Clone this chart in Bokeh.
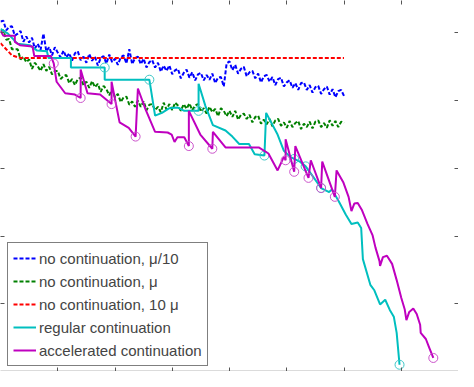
from bokeh.plotting import figure
from bokeh.models import LinearAxis, FixedTicker, Range1d, Legend, LegendItem
from bokeh.embed import file_html
from bokeh.resources import INLINE

# iterations for the "no continuation" runs
iters = list(range(0, 605, 5))

blue_mu10 = [0.17, 0.18, 0.04, 0.09, 0.10, -0.04, -0.01, 0.03, -0.13, -0.05,
             -0.14, -0.07, -0.23, -0.16, -0.25, -0.01, -0.27, -0.21, -0.33, -0.21,
             -0.29, -0.36, -0.26, -0.36, -0.30, -0.41, -0.30, -0.27, -0.40, -0.35,
             -0.44, -0.31, -0.41, -0.35, -0.48, -0.37, -0.34, -0.45, -0.32, -0.43,
             -0.38, -0.47, -0.36, -0.33, -0.45, -0.24, -0.46, -0.37, -0.35, -0.46,
             -0.38, -0.51, -0.43, -0.40, -0.51, -0.44, -0.57, -0.48, -0.56, -0.48,
             -0.61, -0.55, -0.53, -0.67, -0.59, -0.54, -0.66, -0.58, -0.70, -0.61,
             -0.59, -0.70, -0.62, -0.69, -0.60, -0.74, -0.66, -0.65, -0.79, -0.45,
             -0.42, -0.55, -0.47, -0.60, -0.53, -0.50, -0.64, -0.58, -0.56, -0.67,
             -0.60, -0.73, -0.64, -0.62, -0.72, -0.65, -0.77, -0.68, -0.66, -0.79,
             -0.73, -0.70, -0.81, -0.74, -0.84, -0.74, -0.73, -0.84, -0.77, -0.88,
             -0.80, -0.78, -0.90, -0.83, -0.79, -0.91, -0.83, -0.95, -0.86, -0.84,
             -0.93]

green_mu = [0.03, 0.04, -0.10, -0.09, -0.24, -0.24, -0.24, -0.39, -0.35, -0.43,
            -0.39, -0.53, -0.44, -0.49, -0.56, -0.46, -0.56, -0.50, -0.61, -0.56,
            -0.56, -0.68, -0.64, -0.62, -0.74, -0.68, -0.77, -0.68, -0.66, -0.77,
            -0.72, -0.81, -0.71, -0.80, -0.75, -0.87, -0.78, -0.83, -0.92, -0.83,
            -0.95, -0.90, -1.02, -0.95, -0.94, -1.06, -1.01, -1.09, -1.00, -1.09,
            -1.01, -1.14, -1.06, -1.05, -1.14, -1.09, -1.17, -1.03, -1.13, -1.05,
            -1.14, -1.03, -1.07, -1.15, -1.05, -1.12, -1.04, -1.14, -1.07, -1.05,
            -1.16, -1.11, -1.19, -1.09, -1.17, -1.12, -1.23, -1.11, -1.15, -1.23,
            -1.15, -1.24, -1.15, -1.28, -1.21, -1.19, -1.27, -1.21, -1.32, -1.24,
            -1.22, -1.34, -1.28, -1.35, -1.27, -1.38, -1.29, -1.27, -1.37, -1.32,
            -1.40, -1.30, -1.39, -1.33, -1.30, -1.42, -1.34, -1.39, -1.31, -1.41,
            -1.31, -1.29, -1.39, -1.33, -1.40, -1.29, -1.37, -1.30, -1.39, -1.31,
            -1.33]

red_x = [0, 10, 20, 35, 600]
red_y = [-0.15, -0.24, -0.33, -0.37, -0.37]

reg_x = [0, 13, 30, 51, 64, 81, 84, 123, 123, 182, 182, 260, 270, 282, 295, 309,
         321, 338, 346, 346, 358, 371, 393, 405, 417, 434, 444, 461, 464, 484, 495,
         506, 513, 523, 533, 545, 560, 574, 579, 591, 603, 613, 624, 630, 633, 646,
         653, 663, 672, 680, 687, 692, 697]
reg_y = [0.06, -0.01, -0.16, -0.18, -0.26, -0.27, -0.37, -0.37, -0.51, -0.51,
         -0.69, -0.69, -1.22, -1.18, -1.11, -1.10, -1.15, -1.15, -1.15, -0.75,
         -1.08, -1.36, -1.44, -1.53, -1.64, -1.64, -1.79, -1.81, -1.18, -1.50,
         -1.74, -1.83, -1.86, -1.90, -1.97, -2.11, -2.29, -2.35, -2.31, -2.49,
         -2.68, -2.82, -2.80, -2.88, -3.34, -3.72, -3.80, -4.01, -3.94, -4.09,
         -4.19, -4.43, -4.90]
reg_cx = [182, 260, 346, 461, 513, 533, 560, 697]
reg_cy = [-0.51, -0.69, -1.15, -1.81, -1.86, -1.97, -2.29, -4.90]

acc_x = [0, 5, 25, 25, 34, 56, 59, 88, 93, 98, 113, 130, 140, 140, 152, 174, 194,
         194, 208, 224, 236, 240, 253, 270, 292, 299, 304, 309, 321, 329, 329, 349,
         370, 371, 393, 422, 451, 468, 484, 495, 498, 498, 513, 515, 538, 542, 560,
         562, 584, 587, 599, 608, 613, 618, 624, 631, 641, 650, 655, 662, 663, 668,
         675, 684, 692, 700, 706, 709, 714, 721, 727, 733, 734, 743, 749, 756]
acc_y = [0.03, -0.04, -0.04, -0.13, -0.18, -0.20, -0.34, -0.34, -0.45, -0.72,
         -0.89, -0.91, -0.96, -0.54, -0.89, -0.91, -1.05, -0.72, -1.32, -1.40,
         -1.53, -0.82, -1.12, -1.46, -1.47, -1.50, -1.61, -1.54, -1.54, -1.67,
         -1.15, -1.50, -1.71, -1.46, -1.69, -1.69, -1.69, -1.78, -2.03, -1.83,
         -1.88, -1.57, -2.05, -1.67, -2.14, -1.88, -2.29, -1.90, -2.42, -2.03,
         -2.21, -2.42, -2.63, -2.52, -2.51, -2.61, -2.82, -2.99, -3.17, -3.37,
         -3.44, -3.31, -3.29, -3.41, -3.65, -3.91, -4.08, -4.24, -4.12, -4.07,
         -4.15, -4.31, -4.43, -4.52, -4.65, -4.80]
acc_cx = [93, 140, 194, 236, 329, 370, 498, 513, 538, 560, 584, 756]
acc_cy = [-0.45, -0.96, -1.05, -1.53, -1.67, -1.71, -1.88, -2.05, -2.14, -2.29, -2.42, -4.80]

x_ticks = [100, 200, 300, 400, 500, 600, 700]
y_ticks = [-4, -3, -2, -1, 0]

labels = ["no continuation, \u03bc/10", "no continuation, \u03bc",
          "no continuation, 10 \u03bc", "regular continuation",
          "accelerated continuation"]

p = figure(width=458, height=371, output_backend="svg", toolbar_location=None,
           x_range=Range1d(0, 800), y_range=Range1d(-5, 0.48),
           x_axis_location=None, y_axis_location=None, min_border=0)
p.outline_line_color = None
p.background_fill_color = "white"
p.xgrid.visible = False
p.ygrid.visible = False

for loc in ["left", "right", "above", "below"]:
    ticks = y_ticks if loc in ("left", "right") else x_ticks
    ax = LinearAxis(ticker=FixedTicker(ticks=ticks), major_tick_in=4, major_tick_out=0,
                    minor_tick_in=0, minor_tick_out=0,
                    major_label_overrides={t: "" for t in ticks},
                    major_label_text_font_size="0px", major_label_standoff=0,
                    axis_line_color=None, major_tick_line_color="#555555")
    if loc == "below":
        ax.axis_line_color = "#b8b8b8"
        ax.axis_line_width = 2
    p.add_layout(ax, loc)

r1 = p.line(iters, blue_mu10, line_color="#0000ff", line_width=2, line_dash="4 2")
r2 = p.line(iters, green_mu, line_color="#008000", line_width=2, line_dash="4 2")
r3 = p.line(red_x, red_y, line_color="#ff0000", line_width=2, line_dash="4 2")
r4 = p.line(reg_x, reg_y, line_color="#00bfbf", line_width=2)
p.scatter(reg_cx, reg_cy, marker="circle", size=9, fill_color=None,
          line_color="#40c8c8", line_width=1)
r5 = p.line(acc_x, acc_y, line_color="#bf00bf", line_width=2)
p.scatter(acc_cx, acc_cy, marker="circle", size=9, fill_color=None,
          line_color="#cc55cc", line_width=1)

legend = Legend(items=[LegendItem(label=l, renderers=[r]) for l, r in
                       zip(labels, [r1, r2, r3, r4, r5])],
                location=(7, 5), label_text_font="Liberation Sans",
                label_text_font_size="15px", label_height=20, glyph_height=20,
                glyph_width=23, spacing=3, padding=5, label_standoff=3, margin=0,
                border_line_color="black", border_line_width=1,
                background_fill_color="white", background_fill_alpha=1)
p.add_layout(legend)

open("out.html", "w").write(file_html(p, INLINE))
